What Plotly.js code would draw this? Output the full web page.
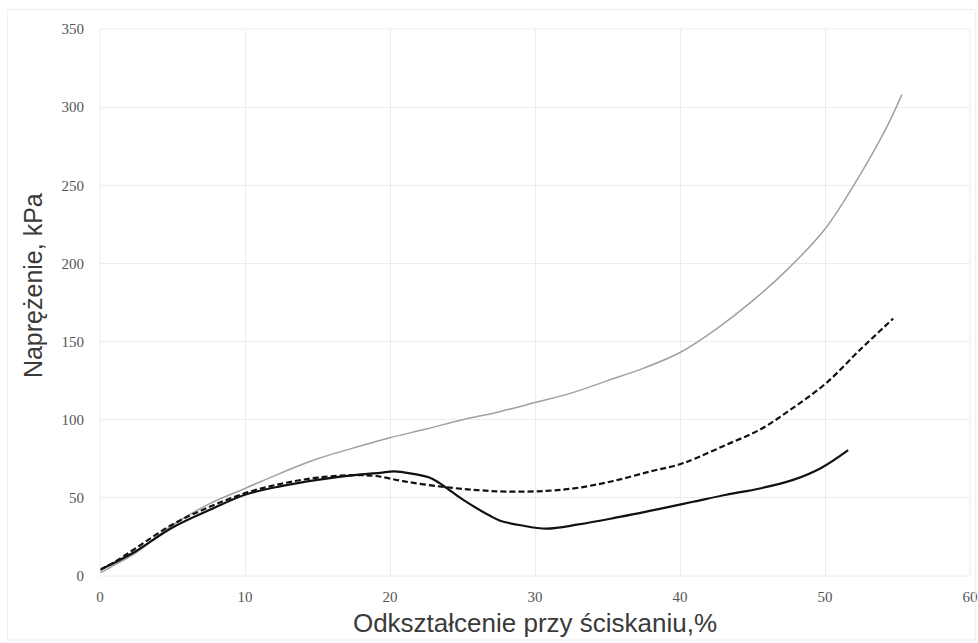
<!DOCTYPE html>
<html>
<head>
<meta charset="utf-8">
<script src="https://cdn.plot.ly/plotly-3.0.1.min.js"></script>
<style>html,body{margin:0;padding:0;background:#fff;}#chart{width:978px;height:643px;}</style>
</head>
<body>
<div id="chart"></div>
<script>
// Gray solid series
const grayX = [0, 1, 2.5, 5, 7.5, 10, 12.5, 15, 17.5, 20, 22.5, 25, 27.5, 30, 32.5, 35, 37.5, 40, 42.5, 45, 47.5, 50, 52.5, 54.3, 55.3];
const grayY = [2, 7, 15, 32.5, 46, 56, 66, 75, 82, 88.5, 94, 100, 105, 111, 117, 125, 133, 143, 158, 176, 197, 222, 258, 288, 308];

// Black dashed series
const dashX = [0, 1, 2.5, 5, 7.5, 10, 12.5, 15, 17.5, 19, 21, 23.7, 26, 28, 30.8, 33, 35.4, 38, 40, 41, 43.2, 45.5, 47.8, 50.1, 52.4, 54.7];
const dashY = [4, 9, 18, 33, 44, 53, 59, 63, 64.5, 64, 60.5, 57, 55, 54, 54.5, 56.5, 60.8, 67, 71.5, 75, 84, 93.6, 107.6, 123.6, 144.6, 164.7];

// Black solid series
const solidX = [0, 1, 2.5, 5, 7.5, 10, 12.5, 15, 17.5, 19.3, 20.3, 21.5, 22.8, 23.7, 25, 26.9, 27.6, 29, 30.8, 33, 35.4, 38.6, 40.9, 43.2, 45.5, 47.8, 49.7, 51.6];
const solidY = [4, 8.5, 16, 31, 42, 52, 57.5, 61.5, 64.5, 66, 67, 65.5, 62.7, 57.6, 49, 38.5, 35.4, 32.5, 30.3, 33, 37, 43, 47.5, 52, 56, 61.5, 69, 80.6];

const xTicks = [0, 10, 20, 30, 40, 50, 60];
const yTicks = [0, 50, 100, 150, 200, 250, 300, 350];

const xTitle = 'Odkształcenie przy ściskaniu,%';
const yTitle = 'Naprężenie, kPa';

const traces = [
  {x: grayX, y: grayY, mode: 'lines', line: {color: '#a0a0a0', width: 1.5, shape: 'spline'}, hoverinfo: 'skip'},
  {x: dashX, y: dashY, mode: 'lines', line: {color: '#111111', width: 2.2, dash: '6px,3px', shape: 'spline'}, hoverinfo: 'skip'},
  {x: solidX, y: solidY, mode: 'lines', line: {color: '#111111', width: 2.2, shape: 'spline'}, hoverinfo: 'skip'}
];

const tickFont = {family: 'Liberation Serif', size: 15, color: '#555555'};

const layout = {
  width: 978, height: 643,
  margin: {l: 100, r: 8, t: 29, b: 67},
  paper_bgcolor: '#ffffff', plot_bgcolor: '#ffffff',
  font: {family: 'Liberation Sans', color: '#555555'},
  showlegend: false,
  xaxis: {
    range: [0, 60], tickvals: xTicks, ticktext: xTicks.map(String),
    showgrid: true, gridcolor: '#ececec', gridwidth: 1,
    zeroline: false, showline: false,
    ticks: 'outside', ticklen: 7, tickcolor: 'rgba(0,0,0,0)',
    tickfont: tickFont,
    title: {text: xTitle, font: {family: 'Liberation Sans', size: 26, color: '#3a3a3a'}, standoff: 9}
  },
  yaxis: {
    range: [0, 350], tickvals: yTicks, ticktext: yTicks.map(String),
    showgrid: true, gridcolor: '#ececec', gridwidth: 1,
    zeroline: false, showline: false,
    ticks: 'outside', ticklen: 12, tickcolor: 'rgba(0,0,0,0)',
    tickfont: tickFont
  },
  annotations: [
    {text: yTitle, xref: 'paper', yref: 'paper', x: -0.077, y: 0.53, xanchor: 'center', yanchor: 'middle',
     textangle: -90, showarrow: false, font: {family: 'Liberation Sans', size: 25, color: '#3a3a3a'}}
  ],
  shapes: [
    {type: 'rect', xref: 'paper', yref: 'paper', x0: 0, x1: 1, y0: 0, y1: 1, line: {color: '#ececec', width: 1}},
    {type: 'rect', xref: 'paper', yref: 'paper', x0: -0.106, x1: 1.006, y0: -0.117, y1: 1.036, line: {color: '#eeeeee', width: 1}}
  ]
};

Plotly.newPlot('chart', traces, layout, {staticPlot: true, displayModeBar: false});
</script>
</body>
</html>
